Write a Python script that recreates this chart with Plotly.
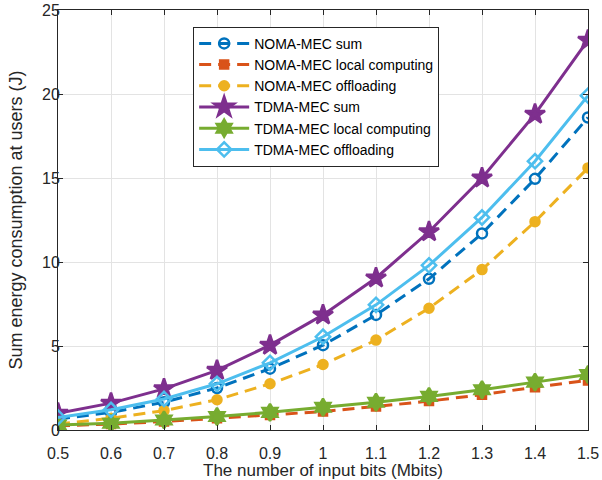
import plotly.graph_objects as go

x_bits = [0.5, 0.6, 0.7, 0.8, 0.9, 1.0, 1.1, 1.2, 1.3, 1.4, 1.5]

noma_sum = [0.65, 1.05, 1.65, 2.5, 3.65, 5.05, 6.85, 9.0, 11.7, 14.95, 18.6]
noma_local = [0.25, 0.35, 0.5, 0.7, 0.9, 1.1, 1.4, 1.72, 2.1, 2.55, 2.95]
noma_off = [0.35, 0.7, 1.15, 1.8, 2.75, 3.9, 5.35, 7.25, 9.55, 12.4, 15.6]
tdma_sum = [1.0, 1.6, 2.45, 3.55, 5.05, 6.85, 9.05, 11.8, 15.0, 18.8, 23.2]
tdma_local = [0.3, 0.4, 0.6, 0.8, 1.05, 1.35, 1.65, 2.0, 2.4, 2.85, 3.3]
tdma_off = [0.75, 1.2, 1.85, 2.75, 4.0, 5.55, 7.45, 9.8, 12.65, 16.0, 19.9]

x_ticks = [0.5, 0.6, 0.7, 0.8, 0.9, 1.0, 1.1, 1.2, 1.3, 1.4, 1.5]
x_tick_labels = ["0.5", "0.6", "0.7", "0.8", "0.9", "1", "1.1", "1.2", "1.3", "1.4", "1.5"]
y_ticks = [0, 5, 10, 15, 20, 25]

names = ["NOMA-MEC sum", "NOMA-MEC local computing", "NOMA-MEC offloading",
         "TDMA-MEC sum", "TDMA-MEC local computing", "TDMA-MEC offloading"]
series = [noma_sum, noma_local, noma_off, tdma_sum, tdma_local, tdma_off]
colors = ["#0072BD", "#D95319", "#EDB120", "#7E2F8E", "#77AC30", "#4DBEEE"]
dashes = ["12px,7px", "12px,7px", "12px,7px", "solid", "solid", "solid"]
symbols = ["circle-open", "square", "circle", "star", "hexagram", "diamond-open"]
sizes = [10, 8, 9, 15, 13, 11]

fig = go.Figure()
for n, y, c, d, s, sz in zip(names, series, colors, dashes, symbols, sizes):
    fig.add_trace(go.Scatter(
        x=x_bits, y=y, name=n, mode="lines+markers",
        line=dict(color=c, width=3, dash=d),
        marker=dict(symbol=s, size=sz, color=c, line=dict(color=c, width=2.5)),
    ))

axis_common = dict(
    showline=True, linecolor="#262626", linewidth=1, mirror="ticks",
    ticks="inside", ticklen=5, tickcolor="#262626",
    showgrid=True, gridcolor="#e3e3e3", gridwidth=1, zeroline=False,
    tickfont=dict(size=16, color="#262626"),
    ticklabeloverflow="allow", automargin=False,
)

fig.update_layout(
    width=602, height=480,
    margin=dict(l=58, r=14, t=10, b=50),
    paper_bgcolor="white", plot_bgcolor="white",
    font=dict(family="Liberation Sans, Arial, sans-serif", color="#262626"),
    xaxis=dict(range=[0.5, 1.5], tickvals=x_ticks, ticktext=x_tick_labels,
               ticklabelstandoff=9,
               title=dict(text="The number of input bits (Mbits)", font=dict(size=17), standoff=6),
               **axis_common),
    yaxis=dict(range=[0, 25], tickvals=y_ticks, ticklabelstandoff=-6,
               title=dict(text="Sum energy consumption at users (J)", font=dict(size=18), standoff=14),
               **axis_common),
    legend=dict(x=0.255, y=0.96, xanchor="left", yanchor="top",
                bgcolor="white", bordercolor="#262626", borderwidth=1,
                font=dict(size=14, color="#000000"), itemwidth=50,
                tracegroupgap=0),
    showlegend=True,
)

fig.write_html("out.html", config={"displayModeBar": False},
               post_script="document.body.style.margin='0';")
